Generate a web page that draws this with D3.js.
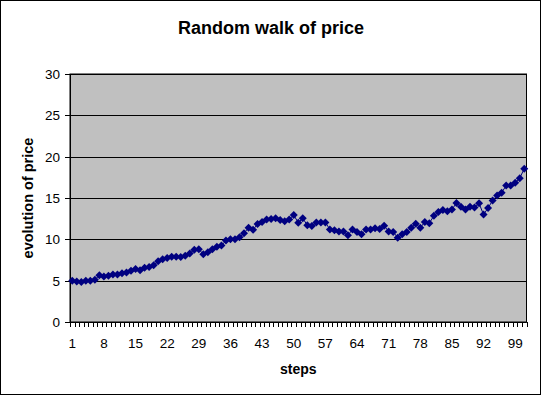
<!DOCTYPE html>
<html>
<head>
<meta charset="utf-8">
<script src="https://cdn.jsdelivr.net/npm/d3@7"></script>
<style>
  body { margin: 0; background: #fff; }
  text { font-family: "Liberation Sans", Arial, sans-serif; }
</style>
</head>
<body>
<div id="chart"></div>
<script>
// price for every step of the walk
var steps = d3.range(1, 102);
var prices = [5.0, 4.9, 4.85, 5.0, 5.0, 5.1, 5.65, 5.5, 5.6, 5.75,
              5.75, 5.9, 6.0, 6.2, 6.4, 6.25, 6.55, 6.65, 6.85, 7.35,
              7.6, 7.75, 7.9, 7.9, 7.85, 8.0, 8.3, 8.75, 8.8, 8.2,
              8.45, 8.8, 9.1, 9.25, 9.85, 10.0, 10.0, 10.25, 10.75, 11.4,
              11.15, 11.85, 12.1, 12.4, 12.45, 12.55, 12.35, 12.2, 12.4, 12.95,
              12.0, 12.55, 11.7, 11.6, 12.05, 12.05, 12.05, 11.2, 11.1, 10.95,
              10.95, 10.5, 11.2, 10.9, 10.6, 11.2, 11.2, 11.35, 11.25, 11.65,
              10.95, 10.9, 10.2, 10.6, 10.9, 11.4, 11.9, 11.4, 12.1, 11.95,
              12.85, 13.3, 13.55, 13.4, 13.6, 14.4, 13.95, 13.6, 13.95, 13.85,
              14.35, 13.0, 13.8, 14.7, 15.3, 15.65, 16.5, 16.5, 16.85, 17.4,
              18.55];
var xTickLabels = [1, 8, 15, 22, 29, 36, 43, 50, 57, 64, 71, 78, 85, 92, 99];
var yTicks = [0, 5, 10, 15, 20, 25, 30];

function main() {
    var width = 542, height = 396;
    var left = 70, right = 526.5, top = 74, bottom = 322;

    var svg = d3.select("#chart").append("svg")
                .attr("width", width).attr("height", height);

    // chart frame
    svg.append("rect").attr("x", 0.5).attr("y", 0.5)
       .attr("width", width - 2).attr("height", height - 2)
       .attr("fill", "#fff").attr("stroke", "#000");

    var x = d3.scaleBand().domain(steps).range([left, right]).padding(0);
    var y = d3.scaleLinear().domain([0, 30]).range([bottom, top]);

    // plot area
    svg.append("rect").attr("x", left).attr("y", top)
       .attr("width", right - left).attr("height", bottom - top)
       .attr("fill", "#c0c0c0").attr("stroke", "#000");

    svg.append("g").selectAll("line").data(yTicks).enter().append("line")
       .attr("x1", left).attr("x2", right)
       .attr("y1", function(d){ return Math.round(y(d)) + 0.5; })
       .attr("y2", function(d){ return Math.round(y(d)) + 0.5; })
       .attr("stroke", "#000");

    // y axis
    var yAxis = svg.append("g");
    yAxis.append("line").attr("x1", left + 0.5).attr("x2", left + 0.5)
         .attr("y1", top).attr("y2", bottom).attr("stroke", "#000");
    yAxis.selectAll(".tick").data(yTicks).enter().append("line")
         .attr("x1", left - 5).attr("x2", left)
         .attr("y1", function(d){ return Math.round(y(d)) + 0.5; })
         .attr("y2", function(d){ return Math.round(y(d)) + 0.5; })
         .attr("stroke", "#000");
    yAxis.selectAll("text").data(yTicks).enter().append("text")
         .attr("x", left - 10).attr("y", function(d){ return y(d) + 5; })
         .attr("text-anchor", "end").attr("font-size", 13.5)
         .text(function(d){ return d; });

    // x axis, ticks between categories
    var edges = steps.map(function(d){ return x(d); }).concat([right]);
    var xAxis = svg.append("g");
    xAxis.append("line").attr("x1", left).attr("x2", right)
         .attr("y1", bottom + 0.5).attr("y2", bottom + 0.5).attr("stroke", "#000");
    xAxis.selectAll(".tick").data(edges).enter().append("line")
         .attr("x1", function(d){ return Math.round(d) + 0.5; })
         .attr("x2", function(d){ return Math.round(d) + 0.5; })
         .attr("y1", bottom).attr("y2", bottom + 5)
         .attr("stroke", "#000");
    xAxis.selectAll("text").data(xTickLabels).enter().append("text")
         .attr("x", function(d){ return x(d) + x.bandwidth() / 2; })
         .attr("y", 348)
         .attr("text-anchor", "middle").attr("font-size", 13.5)
         .text(function(d){ return d; });

    // series: line with diamond markers
    var line = d3.line()
                 .x(function(d, i){ return x(steps[i]) + x.bandwidth() / 2; })
                 .y(function(d){ return y(d); });
    svg.append("path").datum(prices).attr("d", line)
       .attr("fill", "none").attr("stroke", "#000080").attr("stroke-width", 1);
    svg.append("g").selectAll("path").data(prices).enter().append("path")
       .attr("d", "M0,-4L4,0L0,4L-4,0Z")
       .attr("transform", function(d, i){
           return "translate(" + (x(steps[i]) + x.bandwidth() / 2) + "," + y(d) + ")";
       })
       .attr("fill", "#000080");

    // titles
    svg.append("text").attr("x", 271).attr("y", 34)
       .attr("text-anchor", "middle").attr("font-size", 18).attr("font-weight", "bold")
       .text("Random walk of price");
    svg.append("text").attr("x", (left + right) / 2).attr("y", 374)
       .attr("text-anchor", "middle").attr("font-size", 14).attr("font-weight", "bold")
       .text("steps");
    svg.append("text").attr("transform", "translate(33," + ((top + bottom) / 2) + ") rotate(-90)")
       .attr("text-anchor", "middle").attr("font-size", 14.5).attr("font-weight", "bold")
       .text("evolution of price");
}
main();
</script>
</body>
</html>
